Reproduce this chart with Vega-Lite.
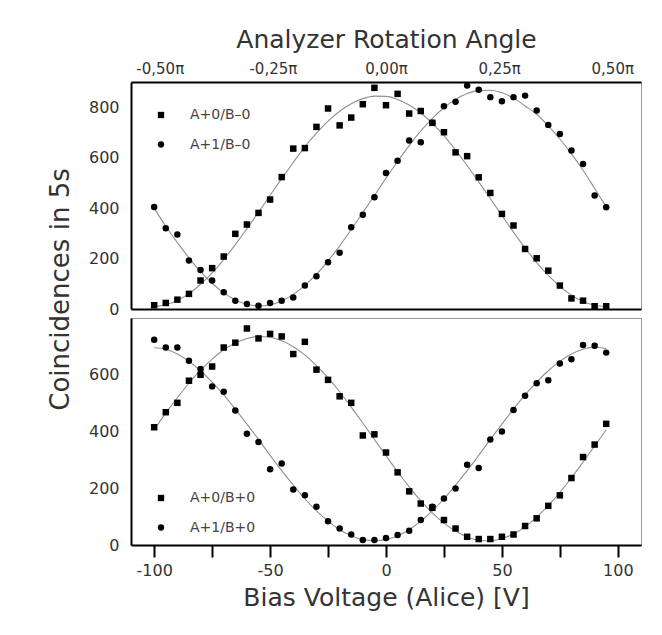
{
 "$schema": "https://vega.github.io/schema/vega-lite/v6.json",
 "background": "white",
 "padding": {"left": 46, "top": 26, "right": 10, "bottom": 10},
 "bounds": "flush",
 "spacing": 9,
 "config": {
  "font": "DejaVu Sans",
  "view": {"stroke": "#9a9a9a", "strokeWidth": 1},
  "axis": {"grid": false, "domainColor": "#000", "domainWidth": 2, "tickColor": "#000", "tickWidth": 2, "labelFont": "DejaVu Sans", "labelFontSize": 16, "labelColor": "#333", "titleFont": "DejaVu Sans", "titleFontWeight": "normal", "titleColor": "#333", "labelFlush": false, "labelOverlap": false, "labelBound": false},
  "legend": {"orient": "none", "title": null, "labelFont": "DejaVu Sans", "labelFontSize": 14, "labelColor": "#444", "symbolSize": 40, "symbolFillColor": "#000", "symbolStrokeColor": "#000", "rowPadding": 15.5, "labelOffset": 22, "padding": 0}
 },
 "datasets": {
  "top": [
   {"v":-100,"s":"A+0/B–0","c":15,"fit":10},{"v":-100,"s":"A+1/B–0","c":404,"fit":400},
   {"v":-95,"s":"A+0/B–0","c":24,"fit":17},{"v":-95,"s":"A+1/B–0","c":320,"fit":328},
   {"v":-90,"s":"A+0/B–0","c":37,"fit":34},{"v":-90,"s":"A+1/B–0","c":295,"fit":263},
   {"v":-85,"s":"A+0/B–0","c":60,"fit":61},{"v":-85,"s":"A+1/B–0","c":192,"fit":203},
   {"v":-80,"s":"A+0/B–0","c":113,"fit":98},{"v":-80,"s":"A+1/B–0","c":155,"fit":148},
   {"v":-75,"s":"A+0/B–0","c":162,"fit":143},{"v":-75,"s":"A+1/B–0","c":113,"fit":102},
   {"v":-70,"s":"A+0/B–0","c":208,"fit":196},{"v":-70,"s":"A+1/B–0","c":66,"fit":64},
   {"v":-65,"s":"A+0/B–0","c":298,"fit":255},{"v":-65,"s":"A+1/B–0","c":33,"fit":36},
   {"v":-60,"s":"A+0/B–0","c":335,"fit":318},{"v":-60,"s":"A+1/B–0","c":20,"fit":19},
   {"v":-55,"s":"A+0/B–0","c":381,"fit":384},{"v":-55,"s":"A+1/B–0","c":13,"fit":12},
   {"v":-50,"s":"A+0/B–0","c":434,"fit":451},{"v":-50,"s":"A+1/B–0","c":24,"fit":17},
   {"v":-45,"s":"A+0/B–0","c":523,"fit":517},{"v":-45,"s":"A+1/B–0","c":33,"fit":32},
   {"v":-40,"s":"A+0/B–0","c":636,"fit":581},{"v":-40,"s":"A+1/B–0","c":46,"fit":58},
   {"v":-35,"s":"A+0/B–0","c":638,"fit":643},{"v":-35,"s":"A+1/B–0","c":93,"fit":94},
   {"v":-30,"s":"A+0/B–0","c":722,"fit":697},{"v":-30,"s":"A+1/B–0","c":130,"fit":138},
   {"v":-25,"s":"A+0/B–0","c":795,"fit":745},{"v":-25,"s":"A+1/B–0","c":185,"fit":191},
   {"v":-20,"s":"A+0/B–0","c":728,"fit":784},{"v":-20,"s":"A+1/B–0","c":223,"fit":250},
   {"v":-15,"s":"A+0/B–0","c":759,"fit":814},{"v":-15,"s":"A+1/B–0","c":324,"fit":315},
   {"v":-10,"s":"A+0/B–0","c":812,"fit":834},{"v":-10,"s":"A+1/B–0","c":374,"fit":382},
   {"v":-5,"s":"A+0/B–0","c":877,"fit":844},{"v":-5,"s":"A+1/B–0","c":443,"fit":450},
   {"v":0,"s":"A+0/B–0","c":808,"fit":843},{"v":0,"s":"A+1/B–0","c":539,"fit":519},
   {"v":5,"s":"A+0/B–0","c":853,"fit":831},{"v":5,"s":"A+1/B–0","c":588,"fit":585},
   {"v":10,"s":"A+0/B–0","c":775,"fit":809},{"v":10,"s":"A+1/B–0","c":668,"fit":648},
   {"v":15,"s":"A+0/B–0","c":785,"fit":777},{"v":15,"s":"A+1/B–0","c":661,"fit":706},
   {"v":20,"s":"A+0/B–0","c":738,"fit":736},{"v":20,"s":"A+1/B–0","c":738,"fit":756},
   {"v":25,"s":"A+0/B–0","c":701,"fit":687},{"v":25,"s":"A+1/B–0","c":804,"fit":798},
   {"v":30,"s":"A+0/B–0","c":621,"fit":630},{"v":30,"s":"A+1/B–0","c":822,"fit":831},
   {"v":35,"s":"A+0/B–0","c":606,"fit":569},{"v":35,"s":"A+1/B–0","c":886,"fit":854},
   {"v":40,"s":"A+0/B–0","c":522,"fit":504},{"v":40,"s":"A+1/B–0","c":869,"fit":866},
   {"v":45,"s":"A+0/B–0","c":460,"fit":438},{"v":45,"s":"A+1/B–0","c":840,"fit":867},
   {"v":50,"s":"A+0/B–0","c":377,"fit":371},{"v":50,"s":"A+1/B–0","c":824,"fit":857},
   {"v":55,"s":"A+0/B–0","c":331,"fit":305},{"v":55,"s":"A+1/B–0","c":840,"fit":836},
   {"v":60,"s":"A+0/B–0","c":238,"fit":242},{"v":60,"s":"A+1/B–0","c":846,"fit":805},
   {"v":65,"s":"A+0/B–0","c":201,"fit":184},{"v":65,"s":"A+1/B–0","c":787,"fit":772},
   {"v":70,"s":"A+0/B–0","c":152,"fit":133},{"v":70,"s":"A+1/B–0","c":730,"fit":726},
   {"v":75,"s":"A+0/B–0","c":93,"fit":90},{"v":75,"s":"A+1/B–0","c":694,"fit":674},
   {"v":80,"s":"A+0/B–0","c":42,"fit":55},{"v":80,"s":"A+1/B–0","c":628,"fit":615},
   {"v":85,"s":"A+0/B–0","c":33,"fit":30},{"v":85,"s":"A+1/B–0","c":575,"fit":550},
   {"v":90,"s":"A+0/B–0","c":11,"fit":15},{"v":90,"s":"A+1/B–0","c":450,"fit":478},
   {"v":95,"s":"A+0/B–0","c":11,"fit":10},{"v":95,"s":"A+1/B–0","c":403,"fit":405}
  ],
  "bottom": [
   {"v":-100,"s":"A+0/B+0","c":415,"fit":406},{"v":-100,"s":"A+1/B+0","c":723,"fit":695},
   {"v":-95,"s":"A+0/B+0","c":468,"fit":465},{"v":-95,"s":"A+1/B+0","c":696,"fit":690},
   {"v":-90,"s":"A+0/B+0","c":501,"fit":519},{"v":-90,"s":"A+1/B+0","c":696,"fit":673},
   {"v":-85,"s":"A+0/B+0","c":579,"fit":570},{"v":-85,"s":"A+1/B+0","c":649,"fit":647},
   {"v":-80,"s":"A+0/B+0","c":600,"fit":616},{"v":-80,"s":"A+1/B+0","c":620,"fit":614},
   {"v":-75,"s":"A+0/B+0","c":629,"fit":655},{"v":-75,"s":"A+1/B+0","c":559,"fit":574},
   {"v":-70,"s":"A+0/B+0","c":696,"fit":688},{"v":-70,"s":"A+1/B+0","c":540,"fit":529},
   {"v":-65,"s":"A+0/B+0","c":713,"fit":712},{"v":-65,"s":"A+1/B+0","c":474,"fit":479},
   {"v":-60,"s":"A+0/B+0","c":763,"fit":728},{"v":-60,"s":"A+1/B+0","c":392,"fit":426},
   {"v":-55,"s":"A+0/B+0","c":728,"fit":735},{"v":-55,"s":"A+1/B+0","c":363,"fit":372},
   {"v":-50,"s":"A+0/B+0","c":744,"fit":732},{"v":-50,"s":"A+1/B+0","c":267,"fit":316},
   {"v":-45,"s":"A+0/B+0","c":735,"fit":720},{"v":-45,"s":"A+1/B+0","c":287,"fit":262},
   {"v":-40,"s":"A+0/B+0","c":673,"fit":699},{"v":-40,"s":"A+1/B+0","c":196,"fit":211},
   {"v":-35,"s":"A+0/B+0","c":716,"fit":670},{"v":-35,"s":"A+1/B+0","c":175,"fit":163},
   {"v":-30,"s":"A+0/B+0","c":618,"fit":632},{"v":-30,"s":"A+1/B+0","c":135,"fit":120},
   {"v":-25,"s":"A+0/B+0","c":582,"fit":589},{"v":-25,"s":"A+1/B+0","c":84,"fit":84},
   {"v":-20,"s":"A+0/B+0","c":524,"fit":540},{"v":-20,"s":"A+1/B+0","c":58,"fit":54},
   {"v":-15,"s":"A+0/B+0","c":501,"fit":486},{"v":-15,"s":"A+1/B+0","c":37,"fit":33},
   {"v":-10,"s":"A+0/B+0","c":386,"fit":430},{"v":-10,"s":"A+1/B+0","c":18,"fit":19},
   {"v":-5,"s":"A+0/B+0","c":390,"fit":372},{"v":-5,"s":"A+1/B+0","c":18,"fit":15},
   {"v":0,"s":"A+0/B+0","c":326,"fit":315},{"v":0,"s":"A+1/B+0","c":25,"fit":19},
   {"v":5,"s":"A+0/B+0","c":256,"fit":258},{"v":5,"s":"A+1/B+0","c":35,"fit":33},
   {"v":10,"s":"A+0/B+0","c":189,"fit":205},{"v":10,"s":"A+1/B+0","c":50,"fit":54},
   {"v":15,"s":"A+0/B+0","c":146,"fit":156},{"v":15,"s":"A+1/B+0","c":88,"fit":84},
   {"v":20,"s":"A+0/B+0","c":131,"fit":113},{"v":20,"s":"A+1/B+0","c":135,"fit":120},
   {"v":25,"s":"A+0/B+0","c":88,"fit":77},{"v":25,"s":"A+1/B+0","c":164,"fit":163},
   {"v":30,"s":"A+0/B+0","c":58,"fit":49},{"v":30,"s":"A+1/B+0","c":199,"fit":211},
   {"v":35,"s":"A+0/B+0","c":29,"fit":28},{"v":35,"s":"A+1/B+0","c":283,"fit":262},
   {"v":40,"s":"A+0/B+0","c":21,"fit":17},{"v":40,"s":"A+1/B+0","c":271,"fit":316},
   {"v":45,"s":"A+0/B+0","c":21,"fit":15},{"v":45,"s":"A+1/B+0","c":372,"fit":372},
   {"v":50,"s":"A+0/B+0","c":29,"fit":23},{"v":50,"s":"A+1/B+0","c":400,"fit":426},
   {"v":55,"s":"A+0/B+0","c":37,"fit":39},{"v":55,"s":"A+1/B+0","c":476,"fit":479},
   {"v":60,"s":"A+0/B+0","c":67,"fit":64},{"v":60,"s":"A+1/B+0","c":526,"fit":529},
   {"v":65,"s":"A+0/B+0","c":94,"fit":98},{"v":65,"s":"A+1/B+0","c":570,"fit":574},
   {"v":70,"s":"A+0/B+0","c":138,"fit":139},{"v":70,"s":"A+1/B+0","c":581,"fit":614},
   {"v":75,"s":"A+0/B+0","c":175,"fit":185},{"v":75,"s":"A+1/B+0","c":640,"fit":647},
   {"v":80,"s":"A+0/B+0","c":236,"fit":237},{"v":80,"s":"A+1/B+0","c":655,"fit":673},
   {"v":85,"s":"A+0/B+0","c":310,"fit":292},{"v":85,"s":"A+1/B+0","c":705,"fit":690},
   {"v":90,"s":"A+0/B+0","c":354,"fit":349},{"v":90,"s":"A+1/B+0","c":702,"fit":698},
   {"v":95,"s":"A+0/B+0","c":427,"fit":406},{"v":95,"s":"A+1/B+0","c":678,"fit":692}
  ]
 },
 "vconcat": [
  {
   "width": 510, "height": 227,
   "data": {"name": "top"},
   "layer": [
    {
     "mark": {"type": "line", "stroke": "#909090", "strokeWidth": 1.1, "interpolate": "monotone"},
     "encoding": {
      "x": {"field": "v", "type": "quantitative", "scale": {"domain": [-110, 110], "nice": false, "zero": false},
       "axis": {"orient": "top", "values": [-97.6, -73.2, -48.8, -24.4, 0, 24.4, 48.8, 73.2, 97.6],
        "labelExpr": "abs(round(datum.value/24.4)) % 2 == 0 ? (datum.value < -1 ? '-' : '') + replace(format(abs(datum.value)/195.2, '.2f'), '.', ',') + 'π' : ''",
        "labelFontSize": 15, "labelPadding": 6, "tickSize": 0,
        "title": "Analyzer Rotation Angle", "titleFontSize": 25, "titlePadding": 9,
        "encode": {"ticks": {"y": {"value": 0}, "y2": {"value": {"expr": "abs(round(datum.value/24.4)) % 2 == 0 ? 11 : 5"}}}}}},
      "y": {"field": "fit", "type": "quantitative", "scale": {"domain": [0, 900], "nice": false},
       "axis": {"values": [0, 100, 200, 300, 400, 500, 600, 700, 800], "labelExpr": "datum.value % 200 == 0 ? datum.label : ''", "tickSize": 0, "labelPadding": 12,
        "title": "Coincidences in 5s", "titleFontSize": 26, "titleX": -71, "titleY": 207, "titleAngle": 270, "titleBaseline": "middle", "titleAlign": "center",
        "encode": {"ticks": {"x": {"value": 0}, "x2": {"value": {"expr": "datum.value % 200 == 0 ? 8 : 4"}}}}}},
      "detail": {"field": "s"}
     }
    },
    {
     "mark": {"type": "point", "filled": true, "size": 42, "color": "#000", "opacity": 1},
     "encoding": {
      "x": {"field": "v", "type": "quantitative",
       "axis": {"orient": "bottom", "values": [-100, -75, -50, -25, 0, 25, 50, 75, 100], "labels": false, "title": null, "tickSize": 0,
        "encode": {"ticks": {"y": {"value": 0}, "y2": {"value": {"expr": "abs(datum.value) % 50 == 0 ? -10 : -4"}}}}}},
      "y": {"field": "c", "type": "quantitative",
       "axis": {"values": [0, 100, 200, 300, 400, 500, 600, 700, 800], "labelExpr": "datum.value % 200 == 0 ? datum.label : ''", "tickSize": 0, "labelPadding": 12,
        "title": "Coincidences in 5s", "titleFontSize": 26, "titleX": -71, "titleY": 207, "titleAngle": 270, "titleBaseline": "middle", "titleAlign": "center",
        "encode": {"ticks": {"x": {"value": 0}, "x2": {"value": {"expr": "datum.value % 200 == 0 ? 8 : 4"}}}}}},
      "shape": {"field": "s", "type": "nominal", "scale": {"domain": ["A+0/B–0", "A+1/B–0"], "range": ["square", "circle"]},
       "legend": {"orient": "none", "legendX": 23, "legendY": 26}}
     }
    }
   ],
   "resolve": {"axis": {"x": "independent"}}
  },
  {
   "width": 510, "height": 227,
   "data": {"name": "bottom"},
   "layer": [
    {
     "mark": {"type": "line", "stroke": "#909090", "strokeWidth": 1.1, "interpolate": "monotone"},
     "encoding": {
      "x": {"field": "v", "type": "quantitative", "scale": {"domain": [-110, 110], "nice": false, "zero": false},
       "axis": {"orient": "bottom", "values": [-100, -75, -50, -25, 0, 25, 50, 75, 100],
        "labelExpr": "abs(datum.value) % 50 == 0 ? (datum.value < 0 ? '-' + abs(datum.value) : '' + datum.value) : ''",
        "tickSize": 12, "labelPadding": 5, "title": "Bias Voltage (Alice) [V]", "titleFontSize": 25, "titlePadding": 7,
        "encode": {"ticks": {"y": {"value": {"expr": "abs(datum.value) % 50 == 0 ? -8 : -4"}}, "y2": {"value": {"expr": "abs(datum.value) % 50 == 0 ? 12 : 0"}}}}}},
      "y": {"field": "fit", "type": "quantitative", "scale": {"domain": [0, 800], "nice": false},
       "axis": {"values": [0, 100, 200, 300, 400, 500, 600, 700], "labelExpr": "datum.value % 200 == 0 ? datum.label : ''", "tickSize": 0, "labelPadding": 12, "title": null,
        "encode": {"ticks": {"x": {"value": 0}, "x2": {"value": {"expr": "datum.value % 200 == 0 ? 8 : 4"}}}}}},
      "detail": {"field": "s"}
     }
    },
    {
     "mark": {"type": "point", "filled": true, "size": 42, "color": "#000", "opacity": 1},
     "encoding": {
      "x": {"field": "v", "type": "quantitative",
       "axis": {"orient": "bottom", "values": [-100, -75, -50, -25, 0, 25, 50, 75, 100],
        "labelExpr": "abs(datum.value) % 50 == 0 ? (datum.value < 0 ? '-' + abs(datum.value) : '' + datum.value) : ''",
        "tickSize": 12, "labelPadding": 5, "title": "Bias Voltage (Alice) [V]", "titleFontSize": 25, "titlePadding": 7,
        "encode": {"ticks": {"y": {"value": {"expr": "abs(datum.value) % 50 == 0 ? -8 : -4"}}, "y2": {"value": {"expr": "abs(datum.value) % 50 == 0 ? 12 : 0"}}}}}},
      "y": {"field": "c", "type": "quantitative",
       "axis": {"values": [0, 100, 200, 300, 400, 500, 600, 700], "labelExpr": "datum.value % 200 == 0 ? datum.label : ''", "tickSize": 0, "labelPadding": 12, "title": null,
        "encode": {"ticks": {"x": {"value": 0}, "x2": {"value": {"expr": "datum.value % 200 == 0 ? 8 : 4"}}}}}},
      "shape": {"field": "s", "type": "nominal", "scale": {"domain": ["A+0/B+0", "A+1/B+0"], "range": ["square", "circle"]},
       "legend": {"orient": "none", "legendX": 23, "legendY": 173}}
     }
    }
   ]
  }
 ],
 "resolve": {"scale": {"x": "independent", "y": "independent", "shape": "independent"}, "legend": {"shape": "independent"}}
}
